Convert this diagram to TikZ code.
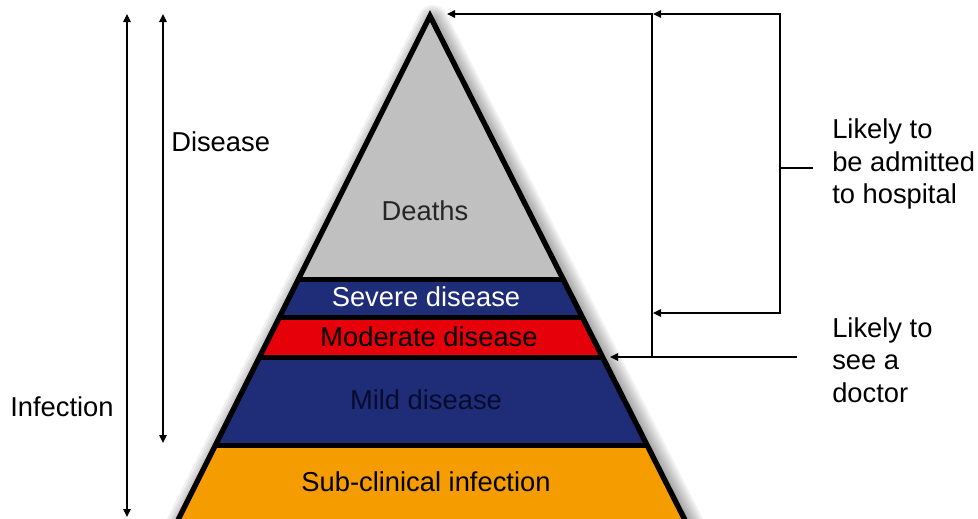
\documentclass[tikz,border=0pt]{standalone}
\usepackage{fontspec}
\setmainfont{Liberation Sans}
\usetikzlibrary{arrows.meta}
\definecolor{navyband}{HTML}{1F2C78}
\definecolor{redband}{HTML}{E6000A}
\definecolor{orangeband}{HTML}{F59C00}
\definecolor{grayband}{HTML}{C0C0C0}
\definecolor{milddark}{HTML}{070C2C}
\begin{document}
\begin{tikzpicture}[x=0.75pt,y=-0.75pt,
  conn/.style={line width=1.5pt, draw=black},
  arr/.style={conn, -{Triangle[length=6pt,width=5.5pt]}},
  dbl/.style={conn, {Triangle[length=6pt,width=5.5pt]}-{Triangle[length=6pt,width=5.5pt]}},
  lbl/.style={font=\fontsize{20.5}{24.4}\selectfont, inner sep=0pt},
  sep/.style={line width=3.8pt, draw=black}
]
\clip (0,0) rectangle (978,518);
\fill[white] (0,0) rectangle (978,518);

% soft halo
\foreach \i in {1,...,7}
  \draw[black, opacity=0.055, line width=\i*3.2pt, line join=round]
    (433,20) -- (176,534) -- (694,534) -- cycle;

% bands
\begin{scope}
  \clip (430,16) -- (173,530) -- (690,530) -- cycle;
  \fill[grayband]   (150,0)     rectangle (700,279.5);
  \fill[navyband]   (150,279.5) rectangle (700,317.5);
  \fill[redband]    (150,317.5) rectangle (700,357.5);
  \fill[navyband]   (150,357.5) rectangle (700,445.5);
  \fill[orangeband] (150,445.5) rectangle (700,530);
  \draw[sep] (150,279.5) -- (700,279.5);
  \draw[sep] (150,317.5) -- (700,317.5);
  \draw[sep] (150,357.5) -- (700,357.5);
  \draw[sep] (150,445.5) -- (700,445.5);
\end{scope}
\draw[line width=4pt, line join=miter] (430,16) -- (173,530) -- (690,530) -- cycle;

% band labels
\node[lbl, text=black!85] (deaths) at (425,211) {Deaths};
\node[lbl, text=white] (severe) at (426,297) {Severe disease};
\node[lbl, text=black] (moderate) at (429,337) {Moderate disease};
\node[lbl, text=milddark] (mild) at (426,400) {Mild disease};
\node[lbl, text=black] (subclin) at (426,482) {Sub-clinical infection};

% left labels and arrows
\node[lbl, anchor=west] (disease) at (171,142) {Disease};
\node[lbl, anchor=west] (infection) at (10,407) {Infection};
\coordinate (infTop) at (127,14);
\coordinate (infBot) at (127,517);
\coordinate (disTop) at (163,14);
\coordinate (disBot) at (163,443);
\draw[dbl] (infTop) -- (infBot);
\draw[dbl] (disTop) -- (disBot);

% right side connectors
\coordinate (apexTip) at (447,14);
\coordinate (vTop) at (652,14);
\coordinate (vBot) at (652,357);
\coordinate (docR) at (797,357);
\coordinate (docTip) at (610,357);
\coordinate (hTopTip) at (653,14);
\coordinate (hTop) at (780,14);
\coordinate (hBot) at (780,313);
\coordinate (hBotTip) at (653,313);
\coordinate (hMid) at (780,168);
\coordinate (hTick) at (813,168);

\draw[conn, {Triangle[length=6pt,width=5.5pt]}-] (apexTip) -- (vTop) -- (vBot);
\draw[arr] (docR) -- (docTip);
\draw[dbl] (hTopTip) -- (hTop) -- (hBot) -- (hBotTip);
\draw[conn] (hMid) -- (hTick);

\node[lbl, anchor=west, align=left] (hosp) at (832,164) {Likely to\\be admitted\\to hospital};
\node[lbl, anchor=west, align=left] (doc) at (832,360) {Likely to\\see a\\doctor};
\end{tikzpicture}
\end{document}
